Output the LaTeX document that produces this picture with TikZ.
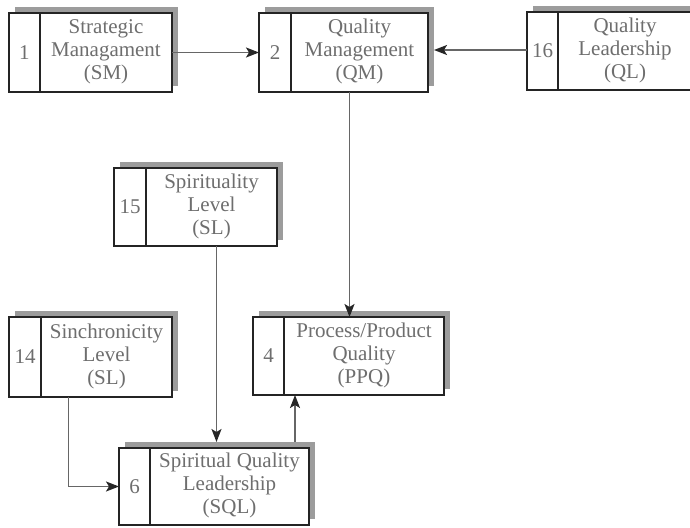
\documentclass[tikz,border=0pt]{standalone}
\usepackage{fontspec}
\setmainfont{Liberation Serif}
\usetikzlibrary{arrows.meta,calc,shadows}
\definecolor{txtgray}{HTML}{6E6E6E}
\definecolor{linegray}{HTML}{666666}
\definecolor{shadowgray}{HTML}{9C9C9C}
\definecolor{boxline}{HTML}{242424}

\tikzset{
  qbox/.style={draw=boxline, line width=2pt, fill=white, inner sep=0pt, outer sep=0pt,
    general shadow={fill=shadowgray, shadow xshift=6pt, shadow yshift=6pt}},
  divline/.style={draw=boxline, line width=2pt},
  numtxt/.style={text=txtgray, font=\fontsize{21}{23}\selectfont, inner sep=0pt},
  lbl/.style={text=txtgray, font=\fontsize{21}{23}\selectfont, align=center, inner sep=0pt},
  link/.style={draw=linegray, line width=1.4pt,
    -{Stealth[length=13pt, width=10pt, inset=3pt, color=black!85]}}
}

% one numbered block: name, left, top, right, bottom, divider x, number, label
\newcommand\qblock[8]{%
  \node[qbox, minimum width={(#4-#2)*1pt}, minimum height={(#5-#3)*1pt}]
    (#1) at ({(#2+#4)/2},{(#3+#5)/2}) {};
  \draw[divline] (#6,#3) -- (#6,#5);
  \node[numtxt] (#1-n) at ({(#2+#6)/2},{(#3+#5)/2}) {#7};
  \node[lbl] (#1-t) at ({(#6+#4)/2},{(#3+#5)/2-1}) {#8};
}

\begin{document}
\begin{tikzpicture}[x=1pt, y=-1pt]
  \useasboundingbox (0,0) rectangle (690,527);
  \fill[white] (0,0) rectangle (690,527);

  \qblock{sm}{9}{13}{172}{92}{40}{1}{Strategic\\Managament\\(SM)}
  \qblock{qm}{259}{13}{428}{92}{291}{2}{Quality\\Management\\(QM)}
  \qblock{ql}{527}{12}{692}{90}{558}{16}{Quality\\Leadership\\(QL)}
  \qblock{spl}{114}{168}{277}{246}{146}{15}{Spirituality\\Level\\(SL)}
  \qblock{syl}{9}{317}{172}{397}{41}{14}{Sinchronicity\\Level\\(SL)}
  \qblock{ppq}{253}{317}{444}{395}{284}{4}{Process/Product\\Quality\\(PPQ)}
  \qblock{sql}{119}{448}{309}{525}{150}{6}{Spiritual Quality\\Leadership\\(SQL)}

  % connectors
  \draw[link] (sm.east) -- (qm.west);
  \draw[link] (ql.west |- 0,50) -- ([xshift=6pt]qm.east |- 0,50);
  \draw[link] ([xshift=6pt]qm.south) -- ([xshift=6pt]qm.south |- ppq.north);
  \draw[link] ([xshift=21pt]spl.south) -- ([xshift=21pt,yshift=6pt]spl.south |- sql.north);
  \draw[link] ([xshift=-22pt]syl.south) |- (sql.west);
  \draw[link] ([xshift=81pt,yshift=6pt]sql.north) -- ([xshift=81pt]sql.north |- ppq.south);
\end{tikzpicture}
\end{document}
